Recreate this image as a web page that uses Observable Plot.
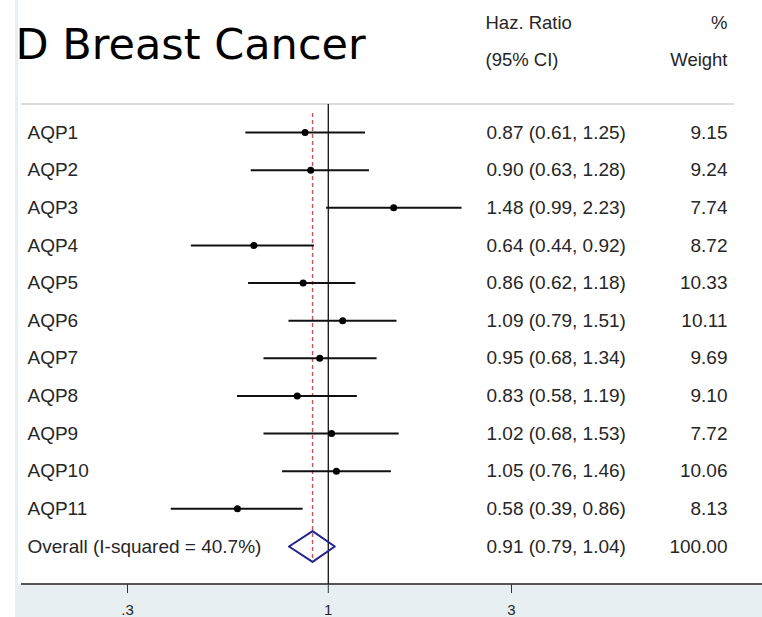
<!DOCTYPE html>
<html><head><meta charset="utf-8">
<script src="https://cdn.jsdelivr.net/npm/d3@7"></script>
<script src="https://cdn.jsdelivr.net/npm/@observablehq/plot@0.6"></script>
<style>body{margin:0;background:#fff}</style>
</head><body><div id="chart"></div>
<script>
const labels = ["AQP1","AQP2","AQP3","AQP4","AQP5","AQP6","AQP7","AQP8","AQP9","AQP10","AQP11","Overall (I-squared = 40.7%)"];
const hr = [0.87,0.90,1.48,0.64,0.86,1.09,0.95,0.83,1.02,1.05,0.58,0.91];
const lo = [0.61,0.63,0.99,0.44,0.62,0.79,0.68,0.58,0.68,0.76,0.39,0.79];
const hi = [1.25,1.28,2.23,0.92,1.18,1.51,1.34,1.19,1.53,1.46,0.86,1.04];
const weights = ["9.15","9.24","7.74","8.72","10.33","10.11","9.69","9.10","7.72","10.06","8.13","100.00"];
const xTicks = [0.3, 1, 3];
const xTickLabels = [".3", "1", "3"];
const title = "D Breast Cancer";
const headers = ["Haz. Ratio", "(95% CI)", "%", "Weight"];

const rows = labels.map((label, i) => ({
  i, label, hr: hr[i], lo: lo[i], hi: hi[i], w: weights[i],
  ci: `${hr[i].toFixed(2)} (${lo[i].toFixed(2)}, ${hi[i].toFixed(2)})`
}));
const studies = rows.slice(0, rows.length - 1);
const overall = rows[rows.length - 1];
const half = 0.41;
const diamond = [
  {x: overall.lo, y: overall.i},
  {x: overall.hr, y: overall.i - half},
  {x: overall.hi, y: overall.i},
  {x: overall.hr, y: overall.i + half},
  {x: overall.lo, y: overall.i}
];

const FONT = "'Liberation Sans', Arial, sans-serif";
const bg = "#e8eff2";
const TXT = "#262626";

function decor(index, scales, values, dims) {
  const g = d3.create("svg:g");
  const W = dims.width, H = dims.height, yb = H - dims.marginBottom;
  g.append("rect").attr("x", 15).attr("y", 0).attr("width", 3).attr("height", H).attr("fill", bg);
  g.append("rect").attr("x", 15).attr("y", yb).attr("width", W - 15).attr("height", H - yb).attr("fill", bg);
  g.append("line").attr("x1", 21).attr("x2", 734).attr("y1", dims.marginTop).attr("y2", dims.marginTop)
    .attr("stroke", "#dcdcdc").attr("stroke-width", 2);
  g.append("line").attr("x1", 21).attr("x2", W).attr("y1", yb).attr("y2", yb)
    .attr("stroke", "#555").attr("stroke-width", 2);
  return g.node();
}

const chart = Plot.plot({
  width: 762,
  height: 617,
  marginTop: 104,
  marginBottom: 33,
  marginLeft: 0,
  marginRight: 0,
  style: {fontFamily: FONT, background: "#fff", color: "#000"},
  x: {type: "log", domain: [0.3, 3], range: [127, 511]},
  y: {domain: [0, 11], range: [132, 546], axis: null},
  marks: [
    decor,
    Plot.ruleX([1], {stroke: "#111", strokeWidth: 1.3}),
    Plot.ruleX([overall.hr], {stroke: "#c4575a", strokeWidth: 1.4, strokeDasharray: "4,3", insetTop: 9, insetBottom: 21}),
    Plot.ruleY(studies, {y: "i", x1: "lo", x2: "hi", stroke: "#111", strokeWidth: 2}),
    Plot.dot(studies, {x: "hr", y: "i", r: 3.5, fill: "#000", stroke: null}),
    Plot.line(diamond, {x: "x", y: "y", stroke: "#23238e", strokeWidth: 2}),
    Plot.text(rows, {y: "i", text: "label", frameAnchor: "left", dx: 27, textAnchor: "start", fontSize: 19, fill: TXT}),
    Plot.text(rows, {y: "i", text: "ci", frameAnchor: "left", dx: 486, textAnchor: "start", fontSize: 19, fill: TXT}),
    Plot.text(rows, {y: "i", text: "w", frameAnchor: "right", dx: -35, textAnchor: "end", fontSize: 19, fill: TXT}),
    Plot.text([title], {frameAnchor: "top-left", dx: 15, dy: -59, textAnchor: "start", lineAnchor: "middle", fontSize: 43, fontFamily: "'DejaVu Sans', sans-serif", fill: "#000"}),
    Plot.text([headers[0]], {frameAnchor: "top-left", dx: 485, dy: -81, textAnchor: "start", lineAnchor: "middle", fontSize: 18.5, fill: TXT}),
    Plot.text([headers[1]], {frameAnchor: "top-left", dx: 485, dy: -44, textAnchor: "start", lineAnchor: "middle", fontSize: 18.5, fill: TXT}),
    Plot.text([headers[2]], {frameAnchor: "top-right", dx: -35, dy: -81, textAnchor: "end", lineAnchor: "middle", fontSize: 18.5, fill: TXT}),
    Plot.text([headers[3]], {frameAnchor: "top-right", dx: -35, dy: -44, textAnchor: "end", lineAnchor: "middle", fontSize: 18.5, fill: TXT}),
    Plot.axisX({ticks: xTicks, tickFormat: d => xTickLabels[xTicks.indexOf(d)], tickSize: 9, tickPadding: 11, fontSize: 15, stroke: "#333", fill: TXT, label: null})
  ]
});
document.getElementById("chart").append(chart);
</script>
</body></html>
